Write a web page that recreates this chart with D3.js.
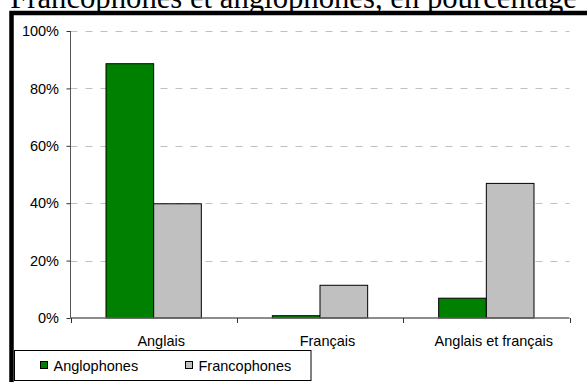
<!DOCTYPE html>
<html>
<head>
<meta charset="utf-8">
<script src="https://cdn.jsdelivr.net/npm/d3@7"></script>
<style>
  html, body { margin: 0; padding: 0; background: #fff; overflow: hidden; }
  svg { display: block; }
  .sans { font-family: "Liberation Sans", Arial, sans-serif; }
</style>
</head>
<body>
<svg id="chart" width="587" height="382"></svg>
<script>
// Langue utilisée, en pourcentage
const categories = ["Anglais", "Français", "Anglais et français"];
const series = ["Anglophones", "Francophones"];
const anglophones = [88.6, 0.8, 6.9];
const francophones = [39.8, 11.4, 46.9];
const yTicks = [0, 20, 40, 60, 80, 100];
const colors = ["#008000", "#c0c0c0"];
const title = "Francophones et anglophones, en pourcentage";

const values = [anglophones, francophones];
const rows = categories.map((c, i) => ({
  category: c,
  items: series.map((s, j) => ({ series: s, value: values[j][i], color: colors[j] }))
}));

const svg = d3.select("#chart");
const plot = { left: 70.5, right: 569.5, top: 31, bottom: 318 };

// Title (partly clipped by the top of the page)
svg.append("text")
  .attr("x", 293.5).attr("y", 7.5)
  .attr("text-anchor", "middle")
  .style("font-family", "'Liberation Serif', 'Times New Roman', serif")
  .style("font-size", "30.7px")
  .text(title);

// Heavy frame around the chart area
svg.append("rect")
  .attr("x", 11.5).attr("y", 13)
  .attr("width", 620).attr("height", 420)
  .attr("fill", "none").attr("stroke", "#000").attr("stroke-width", 4.5);

const y = d3.scaleLinear().domain([0, 100]).range([plot.bottom, plot.top]);
const x0 = d3.scaleBand().domain(categories).range([plot.left, plot.right]);
const x1 = d3.scaleBand().domain(series).range([0, x0.bandwidth()]).paddingOuter(0.745);

// Dashed gridlines
svg.append("g").selectAll("line")
  .data(yTicks.filter(d => d > 0))
  .join("line")
  .attr("x1", plot.left).attr("x2", plot.right)
  .attr("y1", d => Math.round(y(d)) + 0.5).attr("y2", d => Math.round(y(d)) + 0.5)
  .attr("stroke", "#c0c0c0").attr("stroke-width", 1)
  .attr("stroke-dasharray", "7,8");

// Bars
svg.append("g").selectAll("g")
  .data(rows)
  .join("g")
  .attr("transform", d => `translate(${x0(d.category)},0)`)
  .selectAll("rect")
  .data(d => d.items)
  .join("rect")
  .attr("x", d => x1(d.series))
  .attr("width", x1.bandwidth())
  .attr("y", d => y(d.value))
  .attr("height", d => y(0) - y(d.value))
  .attr("fill", d => d.color)
  .attr("stroke", "#000").attr("stroke-width", 1);

// Y axis
const yAxis = svg.append("g")
  .attr("class", "sans")
  .attr("transform", `translate(${plot.left},0)`)
  .call(d3.axisLeft(y).tickValues(yTicks).tickFormat(d => d + "%").tickSize(4).tickPadding(7.5));
yAxis.select(".domain").attr("stroke", "#555").attr("d", `M0,${plot.top}V${plot.bottom}`);
yAxis.selectAll(".tick line").attr("stroke", "#333");
yAxis.selectAll(".tick text").style("font-size", "14.5px").attr("fill", "#000");

// X axis: baseline, ticks at category boundaries, labels under each group
const xg = svg.append("g").attr("class", "sans");
xg.append("line")
  .attr("x1", plot.left).attr("x2", plot.right)
  .attr("y1", plot.bottom).attr("y2", plot.bottom)
  .attr("stroke", "#666").attr("stroke-width", 1.5);
const bounds = categories.map(c => x0(c)).concat([x0(categories[categories.length - 1]) + x0.bandwidth()]);
xg.selectAll("line.tick")
  .data(bounds)
  .join("line")
  .attr("class", "tick")
  .attr("x1", d => Math.round(d) + 0.5).attr("x2", d => Math.round(d) + 0.5)
  .attr("y1", plot.bottom).attr("y2", plot.bottom + 5)
  .attr("stroke", "#333");
xg.selectAll("text")
  .data(categories)
  .join("text")
  .attr("x", d => x0(d) + x0.bandwidth() / 2 + 7.5)
  .attr("y", 345.5)
  .attr("text-anchor", "middle")
  .style("font-size", "14.5px")
  .text(d => d);

// Legend
const legend = svg.append("g").attr("class", "sans");
legend.append("rect")
  .attr("x", 14.5).attr("y", 350.5).attr("width", 296.5).attr("height", 30)
  .attr("fill", "#fff").attr("stroke", "#000").attr("stroke-width", 1);
const legendX = [40, 185];
const items = legend.selectAll("g.item")
  .data(series.map((s, i) => ({ name: s, color: colors[i], x: legendX[i] })))
  .join("g").attr("class", "item")
  .attr("transform", d => `translate(${d.x},0)`);
items.append("rect")
  .attr("x", 0.5).attr("y", 361.5).attr("width", 7).attr("height", 7)
  .attr("fill", d => d.color).attr("stroke", "#000").attr("stroke-width", 1);
items.append("text")
  .attr("x", 13.5).attr("y", 371)
  .style("font-size", "14.5px")
  .text(d => d.name);
</script>
</body>
</html>
